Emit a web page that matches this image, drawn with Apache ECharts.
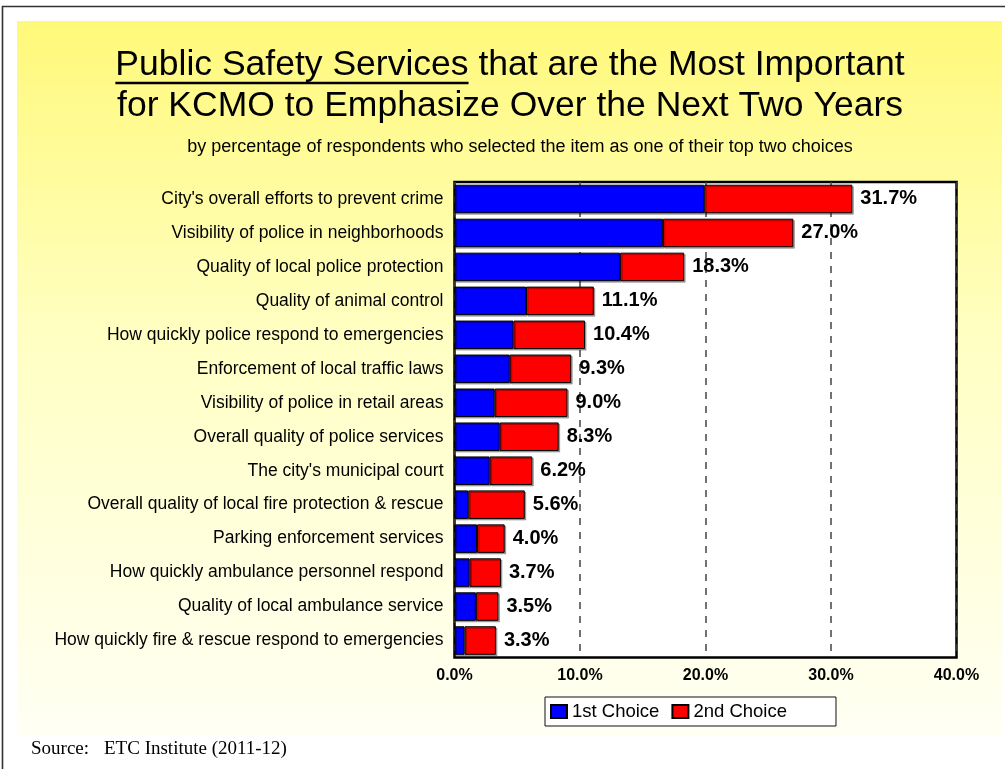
<!DOCTYPE html>
<html>
<head>
<meta charset="utf-8">
<script src="https://cdn.jsdelivr.net/npm/echarts@6/dist/echarts.min.js"></script>
<style>
  html, body { margin: 0; padding: 0; background: #fff; }
  #chart { width: 1005px; height: 769px; }
</style>
</head>
<body>
<div id="chart"></div>
<script>
// Survey items, top to bottom
const categories = [
  "City's overall efforts to prevent crime",
  "Visibility of police in neighborhoods",
  "Quality of local police protection",
  "Quality of animal control",
  "How quickly police respond to emergencies",
  "Enforcement of local traffic laws",
  "Visibility of police in retail areas",
  "Overall quality of police services",
  "The city's municipal court",
  "Overall quality of local fire protection & rescue",
  "Parking enforcement services",
  "How quickly ambulance personnel respond",
  "Quality of local ambulance service",
  "How quickly fire & rescue respond to emergencies"
];

// Percent of respondents naming the item as 1st / 2nd choice
const firstChoice  = [19.9, 16.6, 13.2, 5.7, 4.7, 4.4, 3.2, 3.6, 2.8, 1.1, 1.8, 1.2, 1.7, 0.8];
const secondChoice = [11.8, 10.4, 5.1, 5.4, 5.7, 4.9, 5.8, 4.7, 3.4, 4.5, 2.2, 2.5, 1.8, 2.5];

const seriesNames = ['1st Choice', '2nd Choice'];
const xTicks = [0, 10, 20, 30, 40];

const titleUnderlined = 'Public Safety Services';
const titleLine1 = titleUnderlined + ' that are the Most Important';
const titleLine2 = 'for KCMO to Emphasize Over the Next Two Years';
const subtitle = 'by percentage of respondents who selected the item as one of their top two choices';
const sourceLabel = 'Source:';
const sourceText = 'ETC Institute (2011-12)';

const SANS = "'Liberation Sans', Arial, Helvetica, sans-serif";
const SERIF = "'Liberation Serif', 'Times New Roman', serif";
const TITLE_SIZE = 35.5;
const TITLE_CX = 510;

// width of a string in the title font, used to place the underline
function textWidth(str, size, family) {
  const ctx = document.createElement('canvas').getContext('2d');
  ctx.font = size + 'px ' + family;
  return ctx.measureText(str).width;
}
const line1W = textWidth(titleLine1, TITLE_SIZE, SANS);
const underW = textWidth(titleUnderlined, TITLE_SIZE, SANS);
const underX = TITLE_CX - line1W / 2;

const chart = echarts.init(document.getElementById('chart'), null, { renderer: 'canvas' });

const barBase = {
  type: 'bar',
  stack: 'total',
  barCategoryGap: '16%',
  emphasis: { disabled: true }
};

const option = {
  backgroundColor: '#ffffff',
  animation: false,
  graphic: [
    { type: 'rect', z: -10, silent: true,
      shape: { x: 17, y: 21, width: 985, height: 714 },
      style: { fill: new echarts.graphic.LinearGradient(0, 0, 0, 1, [
        { offset: 0, color: '#fff97a' },
        { offset: 0.45, color: '#ffffc4' },
        { offset: 1, color: '#fffff4' }
      ]) } },
    { type: 'polyline', z: -5, silent: true,
      shape: { points: [[2.5, 769], [2.5, 6.5], [1005, 6.5]] },
      style: { stroke: '#333', lineWidth: 1.6, fill: null } },
    { type: 'text', silent: true, x: TITLE_CX, y: 65,
      style: { text: titleLine1, font: TITLE_SIZE + 'px ' + SANS, fill: '#000',
               align: 'center', verticalAlign: 'middle' } },
    { type: 'line', silent: true,
      shape: { x1: underX, y1: 83, x2: underX + underW, y2: 83 },
      style: { stroke: '#000', lineWidth: 2.6 } },
    { type: 'text', silent: true, x: TITLE_CX, y: 106,
      style: { text: titleLine2, font: TITLE_SIZE + 'px ' + SANS, fill: '#000',
               align: 'center', verticalAlign: 'middle' } },
    { type: 'text', silent: true, x: 520, y: 147.5,
      style: { text: subtitle, font: '18px ' + SANS, fill: '#000',
               align: 'center', verticalAlign: 'middle' } },
    { type: 'text', silent: true, x: 31, y: 749.5,
      style: { text: sourceLabel, font: '19px ' + SERIF, fill: '#000',
               align: 'left', verticalAlign: 'middle' } },
    { type: 'text', silent: true, x: 104, y: 749.5,
      style: { text: sourceText, font: '19px ' + SERIF, fill: '#000',
               align: 'left', verticalAlign: 'middle' } }
  ],
  grid: {
    left: 454.5, right: 48.5, top: 182, bottom: 111.5,
    show: true, backgroundColor: '#ffffff',
    borderColor: '#000', borderWidth: 2.5, containLabel: false
  },
  legend: {
    data: seriesNames,
    left: 545, top: 697,
    orient: 'horizontal',
    padding: [5, 49, 5, 5],
    itemGap: 12,
    itemWidth: 16, itemHeight: 13,
    icon: 'rect',
    backgroundColor: '#ffffff',
    borderColor: '#111', borderWidth: 1,
    borderRadius: 0,
    selectedMode: false,
    textStyle: { fontFamily: SANS, fontSize: 18.5, color: '#000', padding: [0, 0, 0, 0] }
  },
  xAxis: {
    type: 'value',
    min: xTicks[0], max: xTicks[xTicks.length - 1], interval: 10,
    axisLine: { show: false },
    axisTick: { show: false },
    axisLabel: {
      margin: 10,
      fontFamily: SANS, fontSize: 16, fontWeight: 'bold', color: '#000',
      formatter: v => v.toFixed(1) + '%'
    },
    splitLine: { show: true, lineStyle: { color: '#444', width: 1.5, type: [7, 7] } }
  },
  yAxis: {
    type: 'category',
    data: categories,
    inverse: true,
    axisLine: { show: false },
    axisTick: { show: false },
    axisLabel: { margin: 11, fontFamily: SANS, fontSize: 17.5, color: '#000' },
    splitLine: { show: false }
  },
  series: [
    Object.assign({}, barBase, {
      name: seriesNames[0],
      data: firstChoice,
      itemStyle: { color: '#0000ff', borderColor: '#000', borderWidth: 1,
                   shadowColor: 'rgba(0,0,0,0.3)', shadowOffsetX: 1.5, shadowOffsetY: 1.5 }
    }),
    Object.assign({}, barBase, {
      name: seriesNames[1],
      data: secondChoice,
      itemStyle: { color: '#ff0000', borderColor: '#000', borderWidth: 1,
                   shadowColor: 'rgba(0,0,0,0.3)', shadowOffsetX: 1.5, shadowOffsetY: 1.5 },
      label: {
        show: true, position: 'right', distance: 8,
        fontFamily: SANS, fontSize: 20, fontWeight: 'bold', color: '#000',
        formatter: p => (firstChoice[p.dataIndex] + secondChoice[p.dataIndex]).toFixed(1) + '%'
      }
    })
  ]
};

chart.setOption(option);
</script>
</body>
</html>
